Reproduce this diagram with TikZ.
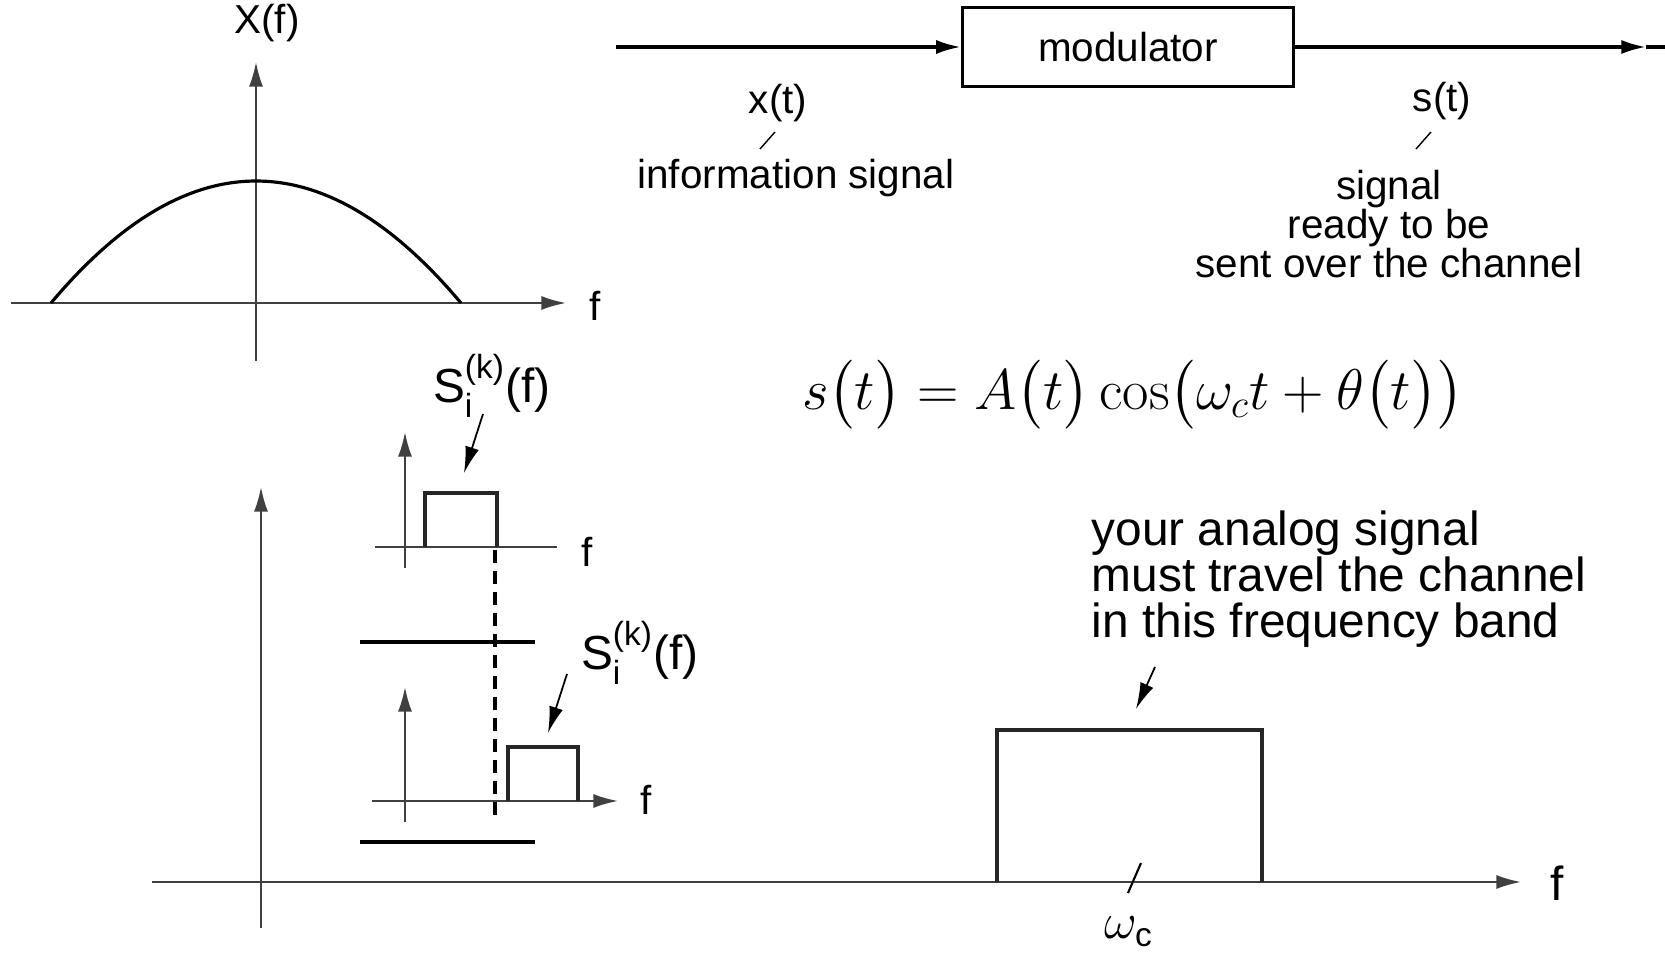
\documentclass[tikz,border=0pt]{standalone}
\usepackage{amsmath}
\usepackage[no-math]{fontspec}
\setmainfont{Liberation Sans}
\usetikzlibrary{arrows.meta}

\begin{document}
\begin{tikzpicture}[x=0.01cm, y=-0.01cm,
  axis/.style={line width=0.6pt, draw=black!75},
  arr/.style={-{Latex[length=7pt,width=4pt]}},
  thin arr/.style={line width=0.5pt, -{Latex[length=7.5pt,width=4pt]}},
  lbl/.style={font=\fontsize{11.5}{11}\selectfont, inner sep=0pt},
  big lbl/.style={font=\fontsize{13.6}{13.1}\selectfont, inner sep=0pt},
  band/.style={line width=0.9pt, draw=black!85}]
  \useasboundingbox (0,0) rectangle (1665,955);

  % spectrum of x(t)
  \draw[axis, arr] (256,361) -- (256,62);
  \draw[axis, arr] (11,303) -- (566,303);
  \node[lbl] (Xf) at (267,23) {X(f)};
  \node[lbl] (fa) at (595,306) {f};
  \draw[line width=0.9pt] plot[domain=51:461, samples=60] (\x, {303-122*(1-((\x-256)/205)^2)});

  % modulator block
  \node[lbl, draw, line width=0.9pt, minimum width=3.31cm, minimum height=0.79cm] (mod) at (1128,47) {modulator\hspace{8pt}};
  \coordinate (xin) at (616,47);
  \coordinate (sout) at (1646,47);
  \coordinate (edge) at (1665,47);
  \draw[line width=0.9pt, arr] (xin) -- (mod.west);
  \draw[line width=0.9pt, arr] (mod.east) -- (sout);
  \draw[line width=0.9pt] (sout) -- (edge);
  \node[lbl] (xt) at (778,103) {x(t)};
  \node[lbl] (info) at (796,178) {information signal};
  \draw[line width=0.4pt] (760,149) -- (775,132);
  \node[lbl] (st) at (1442,101) {s(t)};
  \node[lbl, align=center] (ready) at (1389,224) {signal\\ready to be\\sent over the channel};
  \draw[line width=0.4pt] (1416,149) -- (1431,132);

  % equation
  \node[font=\fontsize{16.6}{19}\selectfont] (eq) at (1133,395)
    {\scalebox{0.945}{$s\bigl(t\bigr) = A\bigl(t\bigr)\cos\bigl(\omega_c t + \theta\bigl(t\bigr)\bigr)$}};

  % sub-band spectra
  \draw[axis, arr] (405,568) -- (405,432);
  \draw[axis] (375,547) -- (557,547);
  \draw[band] (425,547) |- (497,493) -- (497,547);
  \node[lbl] (fb) at (587,552) {f};
  \node[big lbl] (Sa) at (492,386) {S$_\text{i}^\text{(k)}$(f)};
  \coordinate (Sa tip) at (464,473);
  \draw[thin arr] (483,414) -- (Sa tip);
  \draw[line width=1pt, dash pattern=on 0.13cm off 0.08cm] (495,550) -- (495,823);
  \draw[line width=1.2pt] (360,642) -- (535,642);
  \node[big lbl] (Sb) at (640,653) {S$_\text{i}^\text{(k)}$(f)};
  \coordinate (Sb tip) at (548,733);
  \draw[thin arr] (567,674) -- (Sb tip);
  \draw[axis, arr] (405,822) -- (405,687);
  \draw[axis, arr] (372,801) -- (618,801);
  \draw[band] (508,801) |- (578,747) -- (578,801);
  \node[lbl] (fc) at (646,800) {f};
  \draw[line width=1.2pt] (360,842) -- (535,842);

  % channel band
  \draw[axis, arr] (261,928) -- (261,487);
  \draw[axis, arr] (152,882) -- (1521,882);
  \draw[band] (997,882) |- (1262,730) -- (1262,882);
  \draw[line width=0.6pt] (1128,893) -- (1141,863);
  \node[big lbl] (wc) at (1129,932) {$\omega_\text{c}$};
  \node[big lbl] (fd) at (1557,883) {f};
  \node[big lbl, align=left, anchor=west] (note) at (1091,579)
    {your analog signal\\must travel the channel\\in this frequency band};
  \coordinate (note tip) at (1136,709);
  \draw[thin arr] (1155,667) -- (note tip);
\end{tikzpicture}
\end{document}
